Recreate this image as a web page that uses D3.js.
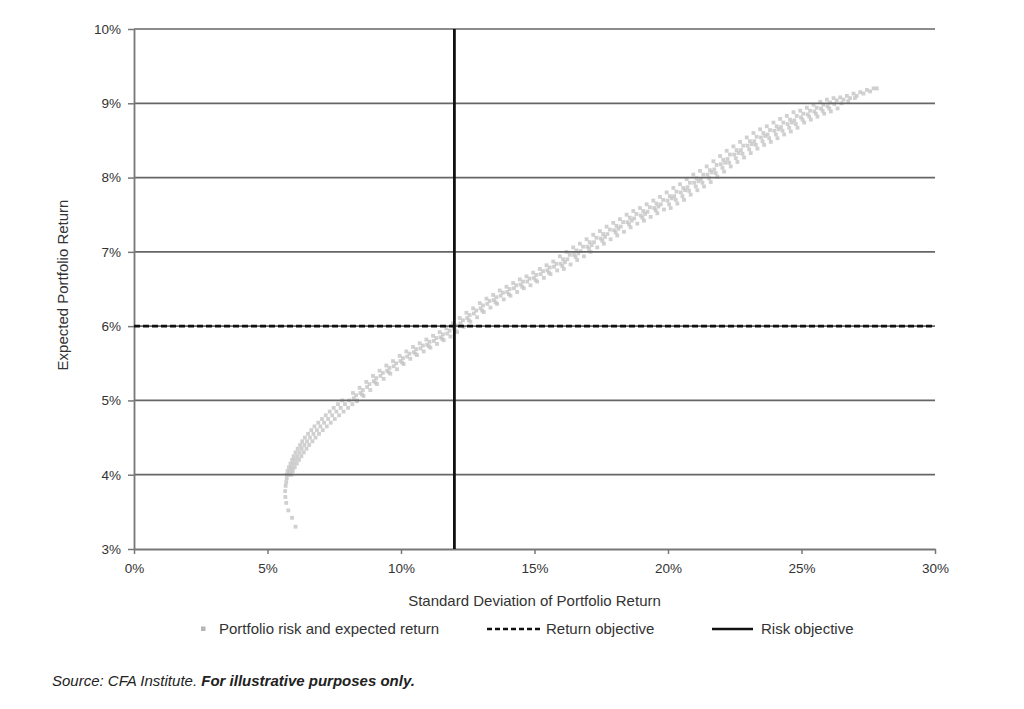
<!DOCTYPE html>
<html>
<head>
<meta charset="utf-8">
<script src="https://cdn.jsdelivr.net/npm/d3@7"></script>
<style>
  html, body { margin: 0; padding: 0; background: #ffffff; }
  svg { display: block; }
  text { font-family: "Liberation Sans", Arial, sans-serif; }
</style>
</head>
<body>
<svg id="chart" width="1024" height="709"></svg>
<script>
// ---------------- data ----------------
const xTicks = [0, 5, 10, 15, 20, 25, 30];
const yTicks = [3, 4, 5, 6, 7, 8, 9, 10];
const xTitle = "Standard Deviation of Portfolio Return";
const yTitle = "Expected Portfolio Return";
const returnObjective = 6;   // %
const riskObjective = 12;    // %
const legendLabels = ["Portfolio risk and expected return", "Return objective", "Risk objective"];
const sourceText = "Source: CFA Institute. ";
const sourceBold = "For illustrative purposes only.";

// simulated portfolios: [standard deviation %, expected return %]
const portfolios = [
  [6.05,3.30],[5.92,3.42],[5.78,3.52],[5.70,3.62],[5.67,3.70],[5.66,3.78],[5.68,3.85],[5.70,3.90],[5.72,3.95],
  [5.72,4.00],[5.80,4.00],[5.90,4.00],[5.75,4.05],[5.85,4.05],[5.95,4.05],[5.80,4.10],[5.90,4.10],[6.02,4.10],
  [5.86,4.15],[5.97,4.15],[6.10,4.15],[5.92,4.20],[6.04,4.20],[6.18,4.20],[5.98,4.25],[6.12,4.25],[6.27,4.25],
  [6.05,4.30],[6.20,4.30],[6.36,4.30],[6.13,4.35],[6.28,4.35],[6.46,4.35],[6.22,4.40],[6.38,4.40],[6.56,4.40],
  [6.30,4.45],[6.48,4.45],[6.68,4.45],[6.40,4.50],[6.59,4.50],[6.80,4.50],[6.52,4.55],[6.72,4.55],[6.93,4.55],
  [6.64,4.60],[6.85,4.60],[7.07,4.60],[6.76,4.65],[6.98,4.65],[7.22,4.65],[6.90,4.70],[7.12,4.70],[7.37,4.70],
  [7.04,4.75],[7.27,4.75],[7.52,4.75],[7.18,4.80],[7.42,4.80],[7.68,4.80],[7.33,4.85],[7.58,4.85],[7.85,4.85],
  [7.48,4.90],[7.74,4.90],[8.02,4.90],[7.64,4.95],[7.90,4.95],[8.18,4.95],[7.80,5.00],[8.06,5.00],[8.35,5.00],
  [8.20,5.10],[8.32,5.07],[8.23,5.03],[8.35,4.99],
  [8.45,5.17],[8.57,5.14],[8.48,5.10],[8.60,5.06],[8.54,5.08],
  [8.70,5.25],[8.82,5.22],[8.73,5.18],[8.85,5.14],
  [8.95,5.33],[9.07,5.30],[8.98,5.26],[9.10,5.22],[9.04,5.24],
  [9.20,5.40],[9.32,5.37],[9.23,5.33],[9.35,5.29],
  [9.45,5.47],[9.57,5.44],[9.48,5.40],[9.60,5.36],[9.54,5.38],
  [9.70,5.53],[9.82,5.50],[9.73,5.46],[9.85,5.42],
  [9.95,5.60],[10.07,5.57],[9.98,5.53],[10.10,5.49],[10.04,5.51],
  [10.20,5.66],[10.32,5.63],[10.23,5.59],[10.35,5.56],
  [10.45,5.72],[10.57,5.69],[10.48,5.65],[10.60,5.61],[10.54,5.63],
  [10.70,5.77],[10.82,5.74],[10.73,5.70],[10.85,5.66],
  [10.95,5.82],[11.07,5.79],[10.98,5.75],[11.10,5.71],[11.04,5.73],
  [11.20,5.87],[11.32,5.84],[11.23,5.80],[11.35,5.76],
  [11.45,5.92],[11.57,5.89],[11.48,5.85],[11.60,5.81],[11.54,5.83],
  [11.70,5.97],[11.82,5.94],[11.73,5.90],[11.85,5.86],
  [11.95,6.04],[12.07,6.01],[11.98,5.97],[12.10,5.92],[12.04,5.94],
  [12.20,6.11],[12.32,6.08],[12.23,6.04],[12.35,5.99],
  [12.45,6.18],[12.57,6.15],[12.48,6.11],[12.60,6.06],[12.54,6.08],
  [12.70,6.24],[12.82,6.21],[12.73,6.17],[12.85,6.12],
  [12.95,6.31],[13.07,6.28],[12.98,6.24],[13.10,6.19],[13.04,6.21],
  [13.20,6.37],[13.32,6.34],[13.23,6.30],[13.35,6.25],
  [13.45,6.42],[13.57,6.39],[13.48,6.35],[13.60,6.30],[13.54,6.32],
  [13.70,6.48],[13.82,6.45],[13.73,6.41],[13.85,6.36],
  [13.95,6.53],[14.07,6.50],[13.98,6.46],[14.10,6.41],[14.04,6.43],
  [14.20,6.58],[14.32,6.55],[14.23,6.51],[14.35,6.46],
  [14.45,6.63],[14.57,6.60],[14.48,6.56],[14.60,6.51],[14.54,6.53],
  [14.70,6.67],[14.82,6.64],[14.73,6.60],[14.85,6.55],
  [14.95,6.72],[15.07,6.69],[14.98,6.65],[15.10,6.60],[15.04,6.62],
  [15.20,6.77],[15.32,6.74],[15.23,6.70],[15.35,6.65],
  [15.45,6.82],[15.57,6.79],[15.48,6.75],[15.60,6.70],[15.54,6.72],
  [15.70,6.87],[15.82,6.84],[15.73,6.80],[15.85,6.75],
  [15.95,6.94],[16.07,6.90],[15.98,6.84],[16.10,6.77],[16.04,6.81],[16.14,6.86],
  [16.20,7.00],[16.32,6.96],[16.23,6.90],[16.35,6.83],
  [16.45,7.06],[16.57,7.02],[16.48,6.96],[16.60,6.89],[16.54,6.93],[16.64,6.98],
  [16.70,7.11],[16.82,7.07],[16.73,7.01],[16.85,6.94],
  [16.95,7.17],[17.07,7.13],[16.98,7.07],[17.10,7.00],[17.04,7.04],[17.14,7.09],
  [17.20,7.23],[17.32,7.19],[17.23,7.13],[17.35,7.06],
  [17.45,7.28],[17.57,7.24],[17.48,7.18],[17.60,7.11],[17.54,7.15],[17.64,7.20],
  [17.70,7.34],[17.82,7.30],[17.73,7.24],[17.85,7.17],
  [17.95,7.39],[18.07,7.35],[17.98,7.29],[18.10,7.22],[18.04,7.26],[18.14,7.31],
  [18.20,7.44],[18.32,7.40],[18.23,7.34],[18.35,7.27],
  [18.45,7.50],[18.57,7.46],[18.48,7.40],[18.60,7.33],[18.54,7.37],[18.64,7.42],
  [18.70,7.55],[18.82,7.51],[18.73,7.45],[18.85,7.38],
  [18.95,7.59],[19.07,7.55],[18.98,7.49],[19.10,7.42],[19.04,7.46],[19.14,7.51],
  [19.20,7.64],[19.32,7.60],[19.23,7.54],[19.35,7.47],
  [19.45,7.69],[19.57,7.65],[19.48,7.59],[19.60,7.52],[19.54,7.56],[19.64,7.61],
  [19.70,7.74],[19.82,7.70],[19.73,7.64],[19.85,7.57],
  [19.95,7.80],[20.07,7.75],[19.98,7.69],[20.10,7.59],[20.04,7.64],[20.14,7.72],
  [20.20,7.86],[20.32,7.81],[20.23,7.75],[20.35,7.65],[20.29,7.70],
  [20.45,7.91],[20.57,7.86],[20.48,7.80],[20.60,7.70],[20.54,7.75],[20.64,7.83],
  [20.70,7.98],[20.82,7.93],[20.73,7.87],[20.85,7.77],[20.79,7.82],
  [20.95,8.04],[21.07,7.99],[20.98,7.93],[21.10,7.83],[21.04,7.88],[21.14,7.95],
  [21.20,8.09],[21.32,8.04],[21.23,7.98],[21.35,7.88],[21.29,7.93],
  [21.45,8.15],[21.57,8.10],[21.48,8.04],[21.60,7.94],[21.54,7.99],[21.64,8.07],
  [21.70,8.22],[21.82,8.17],[21.73,8.11],[21.85,8.01],[21.79,8.06],
  [21.95,8.29],[22.07,8.24],[21.98,8.18],[22.10,8.08],[22.04,8.13],[22.14,8.20],
  [22.20,8.36],[22.32,8.31],[22.23,8.25],[22.35,8.15],[22.29,8.20],
  [22.45,8.42],[22.57,8.37],[22.48,8.31],[22.60,8.21],[22.54,8.26],[22.64,8.33],
  [22.70,8.48],[22.82,8.43],[22.73,8.37],[22.85,8.27],[22.79,8.32],
  [22.95,8.54],[23.07,8.49],[22.98,8.43],[23.10,8.33],[23.04,8.38],[23.14,8.45],
  [23.20,8.60],[23.32,8.55],[23.23,8.49],[23.35,8.39],[23.29,8.44],
  [23.45,8.65],[23.57,8.60],[23.48,8.54],[23.60,8.44],[23.54,8.49],[23.64,8.56],
  [23.70,8.69],[23.82,8.64],[23.73,8.58],[23.85,8.48],[23.79,8.53],
  [23.95,8.74],[24.07,8.69],[23.98,8.63],[24.10,8.53],[24.04,8.58],[24.14,8.65],
  [24.20,8.79],[24.32,8.74],[24.23,8.68],[24.35,8.58],[24.29,8.63],
  [24.45,8.83],[24.57,8.78],[24.48,8.72],[24.60,8.62],[24.54,8.67],[24.64,8.74],
  [24.70,8.88],[24.82,8.83],[24.73,8.77],[24.85,8.67],[24.79,8.72],
  [24.95,8.90],[25.07,8.86],[24.98,8.81],[25.10,8.74],[25.04,8.78],
  [25.20,8.94],[25.32,8.90],[25.23,8.85],[25.35,8.78],[25.29,8.82],
  [25.45,8.98],[25.57,8.94],[25.48,8.89],[25.60,8.82],[25.54,8.86],
  [25.70,9.02],[25.82,8.98],[25.73,8.93],[25.85,8.86],[25.79,8.90],
  [25.95,9.05],[26.07,9.01],[25.98,8.96],[26.10,8.89],[26.04,8.93],
  [26.20,9.07],[26.32,9.04],[26.23,8.99],[26.35,8.93],
  [26.45,9.08],[26.57,9.05],[26.50,9.00],
  [26.70,9.10],[26.82,9.07],[26.75,9.03],
  [26.95,9.13],[27.07,9.10],[27.00,9.07],
  [27.20,9.15],[27.32,9.13],
  [27.45,9.18],[27.57,9.16],
  [27.70,9.20],[27.82,9.20]
];

// ---------------- drawing ----------------
const svg = d3.select("#chart");
const plot = { left: 134, right: 935, top: 29, bottom: 549 };

const x = d3.scaleLinear().domain([0, 30]).range([plot.left, plot.right]);
const y = d3.scaleLinear().domain([3, 10]).range([plot.bottom, plot.top]);

const gridColor = "#666666";
const axisColor = "#777777";
const fontFam = '"Liberation Sans", Arial, sans-serif';

// scatter points
const ptSize = 3.8;
svg.append("g")
  .selectAll("rect")
  .data(portfolios)
  .join("rect")
  .attr("x", d => x(d[0]) - ptSize / 2)
  .attr("y", d => y(d[1]) - ptSize / 2)
  .attr("width", ptSize)
  .attr("height", ptSize)
  .attr("fill", "#c4c4c4")
  .attr("fill-opacity", 0.8);

// horizontal gridlines
svg.append("g")
  .selectAll("line")
  .data(yTicks.filter(t => t > 3))
  .join("line")
  .attr("x1", plot.left)
  .attr("x2", plot.right)
  .attr("y1", d => y(d))
  .attr("y2", d => y(d))
  .attr("stroke", gridColor)
  .attr("stroke-width", 1.7);

// y axis
const yAxis = svg.append("g")
  .attr("transform", `translate(${plot.left},0)`)
  .call(d3.axisLeft(y).tickValues(yTicks).tickFormat(d => d + "%").tickSize(6).tickSizeOuter(0).tickPadding(7));
// x axis
const xAxis = svg.append("g")
  .attr("transform", `translate(0,${plot.bottom})`)
  .call(d3.axisBottom(x).tickValues(xTicks).tickFormat(d => d + "%").tickSize(5).tickSizeOuter(0).tickPadding(9));

[yAxis, xAxis].forEach(g => {
  g.select(".domain").attr("stroke", axisColor).attr("stroke-width", 1.8);
  g.selectAll(".tick line").attr("stroke", axisColor).attr("stroke-width", 1.5);
  g.selectAll(".tick text")
    .attr("fill", "#333")
    .style("font-size", "13.5px")
    .style("font-family", fontFam);
});

// return objective (dashed horizontal)
svg.append("line")
  .attr("x1", x(0)).attr("x2", x(30))
  .attr("y1", y(returnObjective)).attr("y2", y(returnObjective))
  .attr("stroke", "#111")
  .attr("stroke-width", 2.8)
  .attr("stroke-dasharray", "6,3");

// risk objective (solid vertical)
svg.append("line")
  .attr("x1", x(riskObjective)).attr("x2", x(riskObjective))
  .attr("y1", y(10)).attr("y2", y(3))
  .attr("stroke", "#111")
  .attr("stroke-width", 2.8);

// axis titles
svg.append("text")
  .attr("x", (plot.left + plot.right) / 2)
  .attr("y", 606)
  .attr("text-anchor", "middle")
  .attr("fill", "#333")
  .style("font-size", "15px")
  .text(xTitle);

svg.append("text")
  .attr("transform", "translate(68,285) rotate(-90)")
  .attr("text-anchor", "middle")
  .attr("fill", "#333")
  .style("font-size", "15px")
  .text(yTitle);

// legend
const legY = 629;
const leg = svg.append("g");
leg.append("rect")
  .attr("x", 201).attr("y", legY - 2.5)
  .attr("width", 4.5).attr("height", 4.5)
  .attr("fill", "#b5b5b5");
leg.append("text")
  .attr("x", 219).attr("y", legY + 5)
  .attr("fill", "#333").style("font-size", "15px")
  .text(legendLabels[0]);

leg.append("line")
  .attr("x1", 487).attr("x2", 541)
  .attr("y1", legY).attr("y2", legY)
  .attr("stroke", "#111").attr("stroke-width", 2.6)
  .attr("stroke-dasharray", "5,3");
leg.append("text")
  .attr("x", 546).attr("y", legY + 5)
  .attr("fill", "#333").style("font-size", "15px")
  .text(legendLabels[1]);

leg.append("line")
  .attr("x1", 712).attr("x2", 753)
  .attr("y1", legY).attr("y2", legY)
  .attr("stroke", "#111").attr("stroke-width", 2.6);
leg.append("text")
  .attr("x", 761).attr("y", legY + 5)
  .attr("fill", "#333").style("font-size", "15px")
  .text(legendLabels[2]);

// source note
const src = svg.append("text")
  .attr("x", 52).attr("y", 686)
  .attr("fill", "#222")
  .style("font-size", "15px")
  .style("font-style", "italic");
src.append("tspan").text(sourceText);
src.append("tspan").style("font-weight", "bold").text(sourceBold);
</script>
</body>
</html>
